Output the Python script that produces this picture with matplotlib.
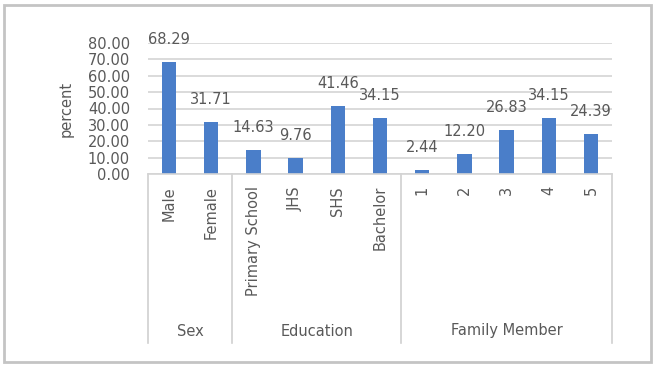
import matplotlib
matplotlib.use("Agg")
import matplotlib.pyplot as plt
import matplotlib.transforms as mtransforms
from matplotlib.patches import Rectangle

# data
categories = ["Male", "Female", "Primary School", "JHS", "SHS", "Bachelor",
              "1", "2", "3", "4", "5"]
values = [68.29, 31.71, 14.63, 9.76, 41.46, 34.15, 2.44, 12.20, 26.83, 34.15, 24.39]
groups = ["Sex", "Education", "Family Member"]
group_sizes = [2, 4, 5]

W, H = 658, 368
BAR = "#4A7EC9"
TXT = "#595959"
FS = 10.5

plt.rcParams["font.family"] = ["DejaVu Sans"]
fig = plt.figure(figsize=(W / 100, H / 100), dpi=100)

# outer chart frame
fig.patches.append(Rectangle((4 / W, 1 - 362 / H), 647 / W, 357 / H,
                             transform=fig.transFigure, fill=False,
                             edgecolor="#c4c4c4", linewidth=2))

# plot area in pixel terms: x 148..612, y 43..174
ax = fig.add_axes([148 / W, 1 - 174 / H, 464 / W, 131 / H])
x = list(range(len(categories)))
ax.bar(x, values, width=0.34, color=BAR, zorder=3)
ax.set_xlim(-0.5, len(categories) - 0.5)
ax.set_ylim(0, 80)
ax.set_yticks(range(0, 81, 10))
ax.set_yticklabels([f"{v:.2f}" for v in range(0, 81, 10)])
ax.tick_params(axis="y", length=0, pad=13, labelsize=FS, labelcolor=TXT)
ax.set_xticks([])
ax.grid(axis="y", color="#d4d4d4", linewidth=1.2, zorder=0)
for s in ax.spines.values():
    s.set_visible(False)
ax.set_ylabel("percent", fontsize=FS, color=TXT)
ax.yaxis.set_label_coords(-0.16, 0.5)

for xi, v in zip(x, values):
    ax.annotate(f"{v:.2f}", (xi, v), xytext=(0, 16.5), textcoords="offset points",
                ha="center", va="center", fontsize=FS, color=TXT,
                annotation_clip=False)

# multi-level category axis
tr = mtransforms.blended_transform_factory(ax.transData, ax.transAxes)
px = 1 / 131.0
bottom = -(343 - 174) * px
ax.plot([-0.5, len(categories) - 0.5], [0, 0], color="#d4d4d4", lw=1.2,
        transform=tr, clip_on=False, zorder=4)
edges = [-0.5]
for n in group_sizes:
    edges.append(edges[-1] + n)
for e in edges:
    ax.plot([e, e], [0, bottom], color="#d0d0d0", lw=1.2, transform=tr,
            clip_on=False)
for xi, c in zip(x, categories):
    ax.text(xi, -(186 - 174) * px, c, rotation=90, ha="center", va="top",
            fontsize=FS, color=TXT, transform=tr)
for g, a, b in zip(groups, edges[:-1], edges[1:]):
    ax.text((a + b) / 2, -(331 - 174) * px, g, ha="center", va="center",
            fontsize=FS, color=TXT, transform=tr)

fig.savefig("out.png", dpi=100)
